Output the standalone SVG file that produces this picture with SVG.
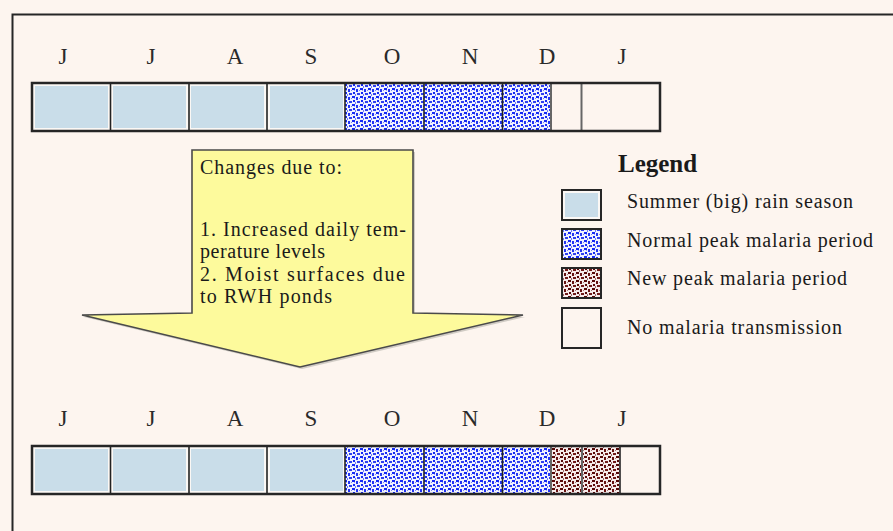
<svg xmlns="http://www.w3.org/2000/svg" width="893" height="531" viewBox="0 0 893 531">
  <style>
    .month { font-family: "Liberation Serif", "Times New Roman", serif; font-size: 23px; fill: #2a2a2a; text-anchor: middle; }
    .cap { font-family: "Liberation Serif", "Times New Roman", serif; font-size: 20px; fill: #1a1a1a; }
    .leg { font-family: "Liberation Serif", "Times New Roman", serif; font-size: 20px; fill: #1a1a1a; }
    .legtitle { font-family: "Liberation Serif", "Times New Roman", serif; font-size: 25px; font-weight: bold; fill: #1a1a1a; }
    .frame { fill: none; stroke: #262626; stroke-width: 2.5; }
    .gap { fill: #fbf8f5; }
    .rain { fill: #c9dde9; }
    .normal { fill: url(#bluedots); }
    .newpeak { fill: url(#browndots); }
    .div { stroke: #222; stroke-width: 1.6; }
    .divsoft { stroke: #666; stroke-width: 2; }
  </style>
  <defs>
    <!-- dotted stipple fills for the malaria periods -->
    <pattern id="bluedots" width="8" height="8" patternUnits="userSpaceOnUse">
      <rect width="8" height="8" fill="#f0f2ff"/>
      <rect x="0" y="0" width="3" height="2" fill="#1428f5"/>
      <rect x="4" y="1" width="2" height="3" fill="#2234f2"/>
      <rect x="1" y="4" width="2" height="2" fill="#1428f5"/>
      <rect x="5" y="5" width="3" height="2" fill="#3040ee"/>
      <rect x="7" y="2" width="1" height="1" fill="#7c88f4"/>
      <rect x="3" y="6" width="1" height="2" fill="#6c7af4"/>
      <rect x="2" y="2" width="1" height="1" fill="#98a2f6"/>
    </pattern>
    <pattern id="browndots" width="8" height="8" patternUnits="userSpaceOnUse">
      <rect width="8" height="8" fill="#f7eceb"/>
      <rect x="0" y="0" width="3" height="2" fill="#560808"/>
      <rect x="4" y="1" width="2" height="3" fill="#661212"/>
      <rect x="1" y="4" width="2" height="2" fill="#560808"/>
      <rect x="5" y="5" width="3" height="2" fill="#701a1a"/>
      <rect x="7" y="2" width="1" height="1" fill="#a87878"/>
      <rect x="3" y="6" width="1" height="2" fill="#9a6a6a"/>
    </pattern>
  </defs>

  <!-- page -->
  <rect x="0" y="0" width="893" height="531" fill="#fdf5ef"/>
  <path d="M12.5 531 V14.5 H893" fill="none" stroke="#262626" stroke-width="2"/>

  <!-- upper calendar -->
  <g id="months-top">
    <text class="month" x="63" y="64">J</text>
    <text class="month" x="151" y="64">J</text>
    <text class="month" x="235" y="64">A</text>
    <text class="month" x="311" y="64">S</text>
    <text class="month" x="392" y="64">O</text>
    <text class="month" x="470" y="64">N</text>
    <text class="month" x="547" y="64">D</text>
    <text class="month" x="622" y="64">J</text>
  </g>
  <g id="bar-top">
    <rect class="gap" x="32" y="83" width="313" height="48"/>
    <rect class="rain" x="35" y="86" width="73" height="42"/>
    <rect class="rain" x="113" y="86" width="73" height="42"/>
    <rect class="rain" x="191" y="86" width="73" height="42"/>
    <rect class="rain" x="270" y="86" width="73" height="42"/>
    <rect class="normal" x="345" y="83" width="206" height="48"/>
    <line class="div" x1="110.5" y1="83" x2="110.5" y2="131"/>
    <line class="div" x1="189" y1="83" x2="189" y2="131"/>
    <line class="div" x1="267" y1="83" x2="267" y2="131"/>
    <line class="div" x1="345" y1="83" x2="345" y2="131"/>
    <line class="div" x1="424" y1="83" x2="424" y2="131"/>
    <line class="div" x1="502.5" y1="83" x2="502.5" y2="131"/>
    <line class="divsoft" x1="551" y1="83" x2="551" y2="131"/>
    <line class="divsoft" x1="581.5" y1="83" x2="581.5" y2="131"/>
    <rect class="frame" x="32" y="83" width="628" height="48"/>
  </g>

  <!-- arrow with causes -->
  <g id="arrow">
    <polygon points="194,152 415,152 415,315 525,317 302,369 84,317 194,315" fill="#9a9a90" opacity="0.45"/>
    <polygon points="192,150 413,150 413,313 523,315 300,367 82,315 192,313" fill="#fdfa9c" stroke="#4a4a4a" stroke-width="1.6" stroke-linejoin="miter"/>
    <text class="cap" x="200" y="174" textLength="142" lengthAdjust="spacing">Changes due to:</text>
    <text class="cap" x="200" y="236" textLength="206" lengthAdjust="spacing">1. Increased daily tem-</text>
    <text class="cap" x="200" y="258" textLength="125" lengthAdjust="spacing">perature levels</text>
    <text class="cap" x="200" y="281" textLength="205" lengthAdjust="spacing">2. Moist surfaces due</text>
    <text class="cap" x="200" y="303" textLength="132" lengthAdjust="spacing">to RWH ponds</text>
  </g>

  <!-- legend -->
  <g id="legend">
    <text class="legtitle" x="618" y="172">Legend</text>
    <g id="legend-rain">
      <rect x="562" y="190" width="39" height="30" fill="#fbf8f5" stroke="#262626" stroke-width="2"/>
      <rect x="565" y="193" width="33" height="24" class="rain"/>
      <text class="leg" x="627" y="208" textLength="226" lengthAdjust="spacing">Summer (big) rain season</text>
    </g>
    <g id="legend-normal">
      <rect x="562" y="229" width="39" height="30" class="normal" stroke="#262626" stroke-width="2"/>
      <text class="leg" x="627" y="247" textLength="246" lengthAdjust="spacing">Normal peak malaria period</text>
    </g>
    <g id="legend-new">
      <rect x="562" y="268" width="39" height="30" class="newpeak" stroke="#262626" stroke-width="2"/>
      <text class="leg" x="627" y="285" textLength="220" lengthAdjust="spacing">New peak malaria period</text>
    </g>
    <g id="legend-none">
      <rect x="562" y="308" width="39" height="40" fill="none" stroke="#262626" stroke-width="2"/>
      <text class="leg" x="627" y="334" textLength="215" lengthAdjust="spacing">No malaria transmission</text>
    </g>
  </g>

  <!-- lower calendar -->
  <g id="months-bottom">
    <text class="month" x="63" y="426">J</text>
    <text class="month" x="151" y="426">J</text>
    <text class="month" x="235" y="426">A</text>
    <text class="month" x="311" y="426">S</text>
    <text class="month" x="392" y="426">O</text>
    <text class="month" x="470" y="426">N</text>
    <text class="month" x="547" y="426">D</text>
    <text class="month" x="622" y="426">J</text>
  </g>
  <g id="bar-bottom">
    <rect class="gap" x="32" y="446" width="313" height="48"/>
    <rect class="rain" x="35" y="449" width="73" height="42"/>
    <rect class="rain" x="113" y="449" width="73" height="42"/>
    <rect class="rain" x="191" y="449" width="73" height="42"/>
    <rect class="rain" x="270" y="449" width="73" height="42"/>
    <rect class="normal" x="345" y="446" width="206" height="48"/>
    <rect class="newpeak" x="551" y="446" width="69" height="48"/>
    <line class="div" x1="110.5" y1="446" x2="110.5" y2="494"/>
    <line class="div" x1="189" y1="446" x2="189" y2="494"/>
    <line class="div" x1="267" y1="446" x2="267" y2="494"/>
    <line class="div" x1="345" y1="446" x2="345" y2="494"/>
    <line class="div" x1="424" y1="446" x2="424" y2="494"/>
    <line class="div" x1="502.5" y1="446" x2="502.5" y2="494"/>
    <line class="divsoft" x1="551" y1="446" x2="551" y2="494"/>
    <line class="divsoft" x1="582" y1="446" x2="582" y2="494"/>
    <line class="div" x1="620" y1="446" x2="620" y2="494"/>
    <rect class="frame" x="32" y="446" width="628" height="48" stroke="#444"/>
  </g>
</svg>
